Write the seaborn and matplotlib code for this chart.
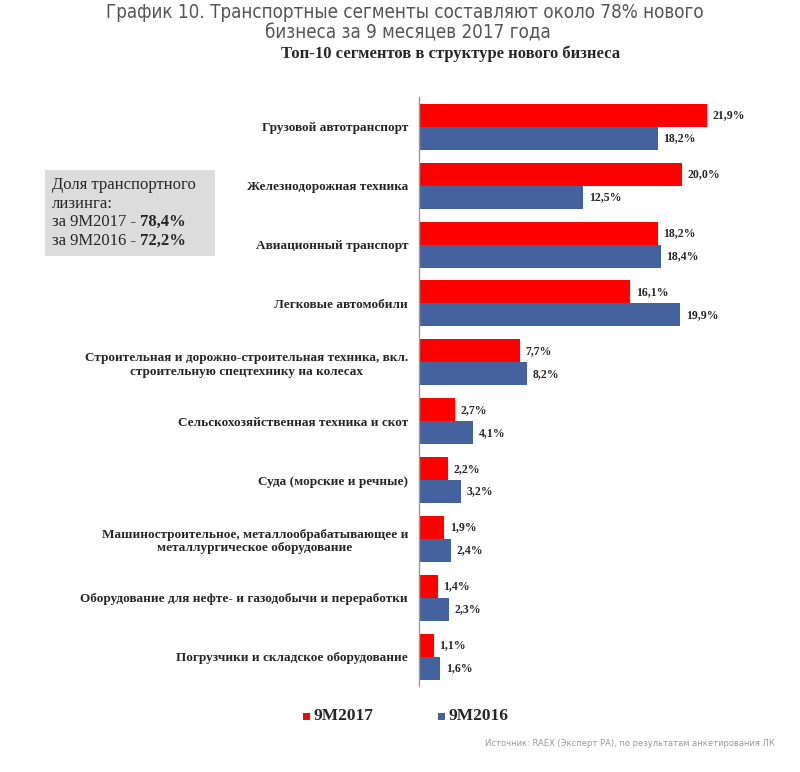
import pandas as pd
import matplotlib.pyplot as plt
import seaborn as sns
from matplotlib.text import Annotation

# Data
segments = [
    'Грузовой автотранспорт',
    'Железнодорожная техника',
    'Авиационный транспорт',
    'Легковые автомобили',
    'Строительная и дорожно-строительная техника, вкл.\nстроительную спецтехнику на колесах',
    'Сельскохозяйственная техника и скот',
    'Суда (морские и речные)',
    'Машиностроительное, металлообрабатывающее и\nметаллургическое оборудование',
    'Оборудование для нефте- и газодобычи и переработки',
    'Погрузчики и складское оборудование',
]
share_2017 = [21.9, 20.0, 18.2, 16.1, 7.7, 2.7, 2.2, 1.9, 1.4, 1.1]
share_2016 = [18.2, 12.5, 18.4, 19.9, 8.2, 4.1, 3.2, 2.4, 2.3, 1.6]
periods = ['9M2017', '9M2016']
colors = ['#FF0000', '#44639E']

df = pd.DataFrame({
    'segment': segments * 2,
    'period': [periods[0]] * len(segments) + [periods[1]] * len(segments),
    'value': share_2017 + share_2016,
})

sns.set_style('white')
serif = ['Liberation Serif', 'DejaVu Serif']

fig = plt.figure(figsize=(8, 7.72), dpi=100)
ax = fig.add_axes([0.524, 0.111, 0.41, 0.763])

sns.barplot(data=df, y='segment', x='value', hue='period', hue_order=periods,
            palette=colors, order=segments, orient='h', width=0.78,
            saturation=1, linewidth=0, ax=ax, legend=False)

ax.set_xlim(0, 25)
ax.set_ylim(9.5, -0.5)
ax.set_xlabel('')
ax.set_ylabel('')
ax.set_xticks([])
for s in ['top', 'right', 'bottom']:
    ax.spines[s].set_visible(False)
ax.spines['left'].set_color('#999999')
ax.spines['left'].set_linewidth(1)
ax.tick_params(axis='y', length=0, pad=8)
ax.set_yticks(range(len(segments)))
ax.set_yticklabels(segments, fontfamily=serif, fontweight='bold', fontsize=9.5,
                   multialignment='center')

# value labels
for container in ax.containers:
    ax.bar_label(container, labels=[f'{w:.1f}%'.replace('.', ',') for w in container.datavalues],
                 padding=4, fontfamily=serif, fontweight='bold', fontsize=8.5)

# titles
title_kw = dict(ha='center', va='center', fontsize=13.5, color='#555555',
                family='DejaVu Sans', fontstretch='condensed')
fig.text(405 / 800, 1 - 13 / 772, 'График 10. Транспортные сегменты составляют около 78% нового', **title_kw)
fig.text(408 / 800, 1 - 33 / 772, 'бизнеса за 9 месяцев 2017 года', **title_kw)
fig.text(451 / 800, 1 - 54 / 772, 'Топ-10 сегментов в структуре нового бизнеса',
         ha='center', va='center', fontsize=12, fontweight='bold', family=serif)

# info box
box = plt.Rectangle((45 / 800, 1 - 256 / 772), 170 / 800, 86 / 772, transform=fig.transFigure,
                    facecolor='#DCDCDC', edgecolor='none', zorder=0)
fig.patches.append(box)
box_kw = dict(va='center', fontsize=12, family=serif)
fig.text(52 / 800, 1 - 185 / 772, 'Доля транспортного', **box_kw)
fig.text(52 / 800, 1 - 204 / 772, 'лизинга:', **box_kw)
t1 = fig.text(52 / 800, 1 - 222 / 772, 'за 9M2017 - ', **box_kw)
t2 = fig.text(52 / 800, 1 - 241 / 772, 'за 9M2016 - ', **box_kw)
for t, val in [(t1, '78,4%'), (t2, '72,2%')]:
    fig.add_artist(Annotation(val, xy=(1, 0.5), xycoords=t, va='center', fontsize=12,
                              family=serif, fontweight='bold', zorder=5))

# legend
for x0, lab, c in [(303, periods[0], colors[0]), (438, periods[1], colors[1])]:
    fig.patches.append(plt.Rectangle((x0 / 800, 1 - 720 / 772), 7 / 800, 7 / 772,
                                     transform=fig.transFigure, facecolor=c, edgecolor='none'))
    fig.text((x0 + 10) / 800, 1 - 716 / 772, lab, va='center', fontsize=12.5,
             fontweight='bold', family=serif)

fig.text(775 / 800, 1 - 744 / 772, 'Источник: RAEX (Эксперт РА), по результатам анкетирования ЛК',
         ha='right', va='center', fontsize=6, color='#999999', family='DejaVu Sans')

fig.savefig('out.png', dpi=100)
